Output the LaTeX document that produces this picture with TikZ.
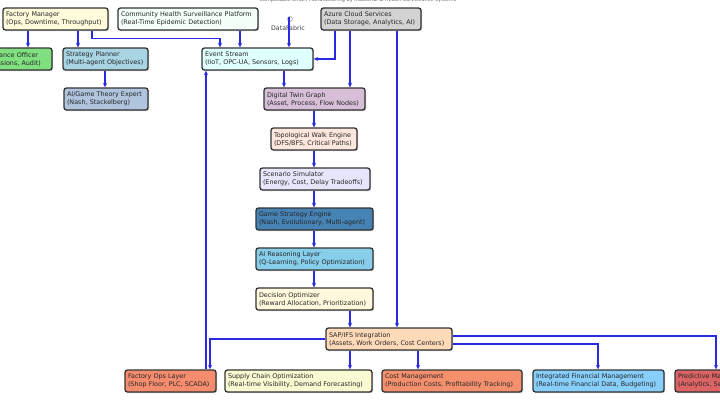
\documentclass[tikz,border=0pt]{standalone}
\usepackage{fontspec}
\setmainfont{DejaVu Sans}
\usetikzlibrary{shadows,arrows.meta}
\definecolor{boxline}{HTML}{333333}
\definecolor{linkblue}{HTML}{2A2AE0}
\definecolor{cFM}{HTML}{FFFBDB}
\definecolor{cCO}{HTML}{80E080}
\definecolor{cSP}{HTML}{A8D4E4}
\definecolor{cAI}{HTML}{B0C4DE}
\definecolor{cCH}{HTML}{F3FFF8}
\definecolor{cAZ}{HTML}{D3D3D3}
\definecolor{cES}{HTML}{E0FFFF}
\definecolor{cDT}{HTML}{D8BFD8}
\definecolor{cTW}{HTML}{FCE6DE}
\definecolor{cSS}{HTML}{E6E6FA}
\definecolor{cGS}{HTML}{4682B4}
\definecolor{cAR}{HTML}{87CEEB}
\definecolor{cDO}{HTML}{FFF8DC}
\definecolor{cSAP}{HTML}{FFDAB9}
\definecolor{cFO}{HTML}{F58C6E}
\definecolor{cSC}{HTML}{FAFAD2}
\definecolor{cCM}{HTML}{F4906E}
\definecolor{cIF}{HTML}{87CEFA}
\definecolor{cPM}{HTML}{DC6464}
\tikzset{
  box/.style={draw=boxline, line width=1.3pt, rounded corners=2.5pt,
    drop shadow={shadow xshift=1.2pt, shadow yshift=-1.2pt, fill=black!40, opacity=0.5},
    font=\fontsize{6.4}{8}\selectfont, text=black!85, align=left, inner xsep=3pt, inner ysep=0pt,
    execute at begin node={\hyphenpenalty=10000\exhyphenpenalty=10000}},
  conn/.style={draw=linkblue, line width=1.1pt, -{Stealth[length=4.5pt,width=4pt]}},
  lbl/.style={font=\fontsize{6.3}{7}\selectfont, text=black!75, inner sep=0pt},
}
\newcommand\bx[7]{%
  \pgfmathsetmacro\cx{(#2+#4)/2}\pgfmathsetmacro\cy{(#3+#5)/2}%
  \pgfmathsetmacro\ww{#4-#2}\pgfmathsetmacro\tw{#4-#2-6}\pgfmathsetmacro\hh{#5-#3}%
  \node[box, fill=#6, minimum width=\ww pt, minimum height=\hh pt, text width=\tw pt] (#1) at (\cx,\cy) {#7};}
\begin{document}
\begin{tikzpicture}[x=1pt,y=-1pt]
\useasboundingbox (0,0) rectangle (720,415);
\fill[white] (0,0) rectangle (720,415);
\node[font=\fontsize{5}{6}\selectfont, text=black!60, inner sep=0pt] (title) at (358,0) {Composable Smart Manufacturing by Industrial \& Health Surveillance Systems};
% boxes
\bx{fm}{3}{8}{108}{30}{cFM}{Factory Manager\\(Ops, Downtime, Throughput)}
\bx{co}{-26}{48}{52}{70}{cCO}{Compliance Officer\\(Permissions, Audit)}
\bx{sp}{63}{48}{148}{70}{cSP}{Strategy Planner\\(Multi-agent Objectives)}
\bx{ai}{64}{88}{148}{110}{cAI}{AI/Game Theory Expert\\(Nash, Stackelberg)}
\bx{ch}{118}{8}{258}{30}{cCH}{Community Health Surveillance Platform\\(Real-Time Epidemic Detection)}
\bx{az}{321}{8}{421}{30}{cAZ}{Azure Cloud Services\\(Data Storage, Analytics, AI)}
\bx{es}{202}{48}{313}{70}{cES}{Event Stream\\(IIoT, OPC-UA, Sensors, Logs)}
\bx{dt}{264}{88}{365}{110}{cDT}{Digital Twin Graph\\(Asset, Process, Flow Nodes)}
\bx{tw}{271}{128}{357}{150}{cTW}{Topological Walk Engine\\(DFS/BFS, Critical Paths)}
\bx{ss}{260}{168}{370}{190}{cSS}{Scenario Simulator\\(Energy, Cost, Delay Tradeoffs)}
\bx{gs}{256}{208}{373}{230}{cGS}{Game Strategy Engine\\(Nash, Evolutionary, Multi-agent)}
\bx{ar}{256}{248}{373}{270}{cAR}{AI Reasoning Layer\\(Q-Learning, Policy Optimization)}
\bx{do}{256}{288}{373}{310}{cDO}{Decision Optimizer\\(Reward Allocation, Prioritization)}
\bx{sap}{326}{328}{452}{350}{cSAP}{SAP/IFS Integration\\(Assets, Work Orders, Cost Centers)}
\bx{fo}{125}{370}{216}{392}{cFO}{Factory Ops Layer\\(Shop Floor, PLC, SCADA)}
\bx{sc}{225}{370}{372}{392}{cSC}{Supply Chain Optimization\\(Real-time Visibility, Demand Forecasting)}
\bx{cm}{382}{370}{522}{392}{cCM}{Cost Management\\(Production Costs, Profitability Tracking)}
\bx{if}{533}{370}{664}{392}{cIF}{Integrated Financial Management\\(Real-time Financial Data, Budgeting)}
\bx{pm}{675}{370}{790}{392}{cPM}{Predictive Maintenance\\(Analytics, Sensor Data)}
% data fabric
\coordinate (df) at (289,17);
\node[lbl] (dfl) at (288,28) {DataFabric};
\draw[black!40, line width=0.5pt, fill=white] (290,19) circle (2.5);
% helper coordinates
\foreach \v in {28,78,92,105,206,210,220,240,284,314,335,350,397,418,598,716}{\coordinate (c\v) at (\v,0);}
\coordinate (y336) at (0,336);
\coordinate (y344) at (0,344);
% connectors
\draw[conn] (fm.south -| c28) -- (co.north -| c28);
\draw[conn] (fm.south -| c78) -- (sp.north -| c78);
\draw[conn] (fm.south -| c92) -- ++(0,8) -| (es.north -| c220);
\draw[conn] (sp.south -| c105) -- (ai.north -| c105);
\draw[conn] (ch.south -| c240) -- (es.north -| c240);
\draw[conn] (df) -- (es.north -| df);
\draw[conn] (az.south -| c335) |- (es.east);
\draw[conn] (az.south -| c350) -- (dt.north -| c350);
\draw[conn] (az.south -| c397) -- (sap.north -| c397);
\draw[conn] (es.south -| c284) -- (dt.north -| c284);
\draw[conn] (dt.south -| c314) -- (tw.north -| c314);
\draw[conn] (tw.south -| c314) -- (ss.north -| c314);
\draw[conn] (ss.south -| c314) -- (gs.north -| c314);
\draw[conn] (gs.south -| c314) -- (ar.north -| c314);
\draw[conn] (ar.south -| c314) -- (do.north -| c314);
\draw[conn] (do.south -| c350) -- (sap.north -| c350);
\draw[conn] (sap.west) -| (fo.north -| c210);
\draw[conn] (fo.north -| c206) -- (es.south -| c206);
\draw[conn] (sap.south -| c350) -- (sc.north -| c350);
\draw[conn] (sap.south -| c418) -- (cm.north -| c418);
\draw[conn] (sap.east |- y344) -| (if.north -| c598);
\draw[conn] (sap.east |- y336) -| (pm.north -| c716);
\end{tikzpicture}
\end{document}
